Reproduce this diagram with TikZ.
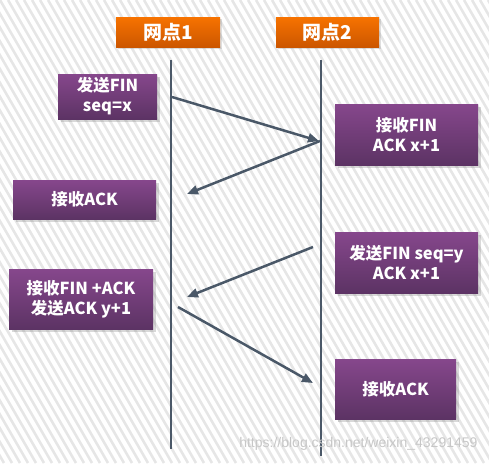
\documentclass[tikz,border=0pt]{standalone}
\usepackage{fontspec}
\setmainfont{Noto Sans CJK SC}
\newfontfamily\wmfont{Liberation Sans}
\usetikzlibrary{arrows.meta,shadows}
\definecolor{orgtop}{HTML}{F77300}
\definecolor{orgbot}{HTML}{CC5600}
\definecolor{purtop}{HTML}{86478C}
\definecolor{purbot}{HTML}{5C3364}
\definecolor{lineclr}{HTML}{4A5868}
\definecolor{stripe}{HTML}{E6E6E6}
\tikzset{
  hdr/.style={rectangle, inner sep=0pt, top color=orgtop, bottom color=orgbot,
    text=white, font=\fontsize{19}{21}\selectfont\bfseries,
    drop shadow={opacity=0.25, shadow xshift=2pt, shadow yshift=-2pt}},
  pbox/.style={rectangle, inner sep=0pt, top color=purtop, bottom color=purbot,
    text=white, align=center, font=\fontsize{16.5}{20}\selectfont\bfseries,
    drop shadow={opacity=0.3, shadow xshift=2.5pt, shadow yshift=-2.5pt}},
  life/.style={draw=lineclr, line width=2.5pt},
  msg/.style={draw=lineclr, line width=2.5pt, -{Triangle[length=11pt,width=9pt]}},
}
\begin{document}
\begin{tikzpicture}[x=1pt,y=-1pt]
\useasboundingbox (0,0) rectangle (489,463);
\begin{scope}
\clip (0,0) rectangle (489,463);
\foreach \i in {-40,...,62}{
  \draw[stripe, line width=2.6pt] (\i*8,0) -- (\i*8+268,463);
}
\end{scope}
% headers
\node[hdr, minimum width=104pt, minimum height=30pt] (h1) at (168,32) {网点1};
\node[hdr, minimum width=103pt, minimum height=30pt] (h2) at (327.5,32) {网点2};
% lifelines
\coordinate (l1t) at (171,60);
\coordinate (l1b) at (171,449);
\coordinate (l2t) at (321,60);
\coordinate (l2b) at (321,456);
\draw[life] (l1t) -- (l1b);
\draw[life] (l2t) -- (l2b);
% boxes
\node[pbox, minimum width=99pt, minimum height=45pt] (ba) at (107.5,96.5) {发送FIN\\seq=x};
\node[pbox, minimum width=143pt, minimum height=61pt] (bb) at (406.5,134.5) {接收FIN\\ACK x+1};
\node[pbox, minimum width=143pt, minimum height=39pt] (bc) at (84.5,199.5) {接收ACK};
\node[pbox, minimum width=143pt, minimum height=61pt] (bd) at (406.5,262.5) {发送FIN seq=y\\ACK x+1};
\node[pbox, minimum width=144pt, minimum height=60pt] (be) at (81,299) {接收FIN +ACK\\发送ACK y+1};
\node[pbox, minimum width=121pt, minimum height=60pt] (bf) at (395.5,389) {接收ACK};
% messages
\coordinate (a1s) at (172,97);
\coordinate (a1e) at (319,141);
\coordinate (a2s) at (320,141);
\coordinate (a2e) at (187,194);
\coordinate (a3s) at (313,247);
\coordinate (a3e) at (187,297);
\coordinate (a4s) at (178,307);
\coordinate (a4e) at (313,383);
\draw[msg] (a1s) -- (a1e);
\draw[msg] (a2s) -- (a2e);
\draw[msg] (a3s) -- (a3e);
\draw[msg] (a4s) -- (a4e);
% watermark
\node[text=black!22, font=\wmfont\fontsize{14}{16}\selectfont, anchor=east] (wm) at (481,444) {https://blog.csdn.net/weixin\_43291459};
\end{tikzpicture}
\end{document}
